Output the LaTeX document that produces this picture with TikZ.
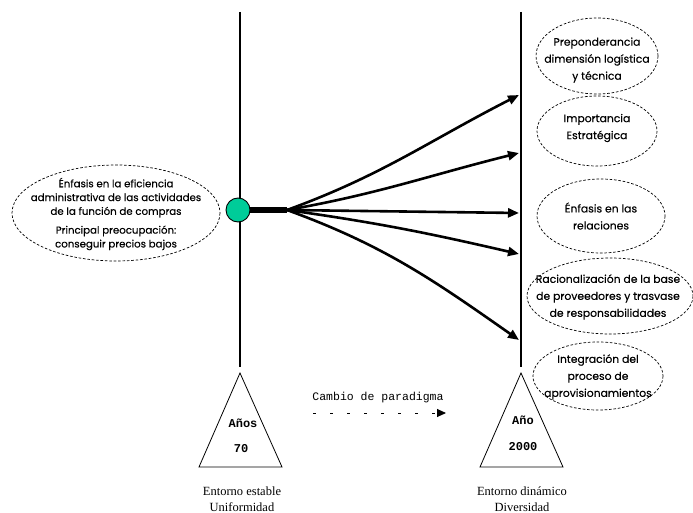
\documentclass[tikz,border=0pt]{standalone}
\usepackage{fontspec}
\setmainfont{Liberation Serif}
\newfontfamily\gotica{Poppins}[FakeBold=0.35]
\newfontfamily\maquina{Liberation Mono}
\usepackage{xcolor}
\definecolor{paradigmaVerde}{HTML}{00CC99}
\definecolor{paradigmaTinta}{HTML}{000000}
\usepackage{tikz}
\usetikzlibrary{arrows.meta, positioning, shapes.geometric}
\tikzset{
  %% ── Globos ───────────────────────────────────────────────────────────
  %% Dashed ellipses carry the ideas of each era; the text is a geometric sans.
  globo/.style      = {align=center, inner sep=0pt,
                       font=\gotica\fontsize{10.8}{17}\selectfont},
  borde/.style      = {draw=paradigmaTinta, line width=0.7pt,
                       dash pattern=on 2.6pt off 1.8pt},
  %%
  %% ── Ejes y flechas ───────────────────────────────────────────────────
  eje/.style        = {draw=paradigmaTinta, line width=2.8pt},
  rama/.style       = {-{Triangle[length=11pt, width=9pt]}, draw=paradigmaTinta,
                       line width=2.6pt},
  cambio/.style     = {-{Triangle[length=9pt, width=8pt]}, draw=paradigmaTinta,
                       line width=0.9pt, dash pattern=on 3pt off 14pt},
  %%
  %% ── Textos ───────────────────────────────────────────────────────────
  epoca/.style      = {font=\maquina\bfseries\fontsize{12}{14}\selectfont,
                       inner sep=0pt},
  entorno/.style    = {font=\fontsize{12.5}{15.5}\selectfont, align=center,
                       inner sep=0pt},
}

\begin{document}
\begin{tikzpicture}[x=1pt, y=-1pt]
\useasboundingbox (0,0) rectangle (693,513);

%% the two time axes
\coordinate (ejeAtop) at (240, 12);
\coordinate (ejeAbot) at (240, 367);
\coordinate (ejeBtop) at (521, 12);
\coordinate (ejeBbot) at (521, 367);
\draw[eje] (ejeAtop) -- (ejeAbot);
\draw[eje] (ejeBtop) -- (ejeBbot);

%% the era triangles
\draw[line width=0.8pt] (240, 373) -- (199, 467) -- (282, 467) -- cycle;
\draw[line width=0.8pt] (521, 373) -- (480, 467) -- (563, 467) -- cycle;
\node[epoca] (anos) at (243, 423) {Años};
\node[epoca] (setenta) at (241, 449) {70};
\node[epoca] (ano) at (523, 420) {Año};
\node[epoca] (dosmil) at (523, 447) {2000};

\node[entorno] (estable) at (242, 499) {Entorno estable\\Uniformidad};
\node[entorno] (dinamico) at (522, 499) {Entorno dinámico\\Diversidad};

%% the change of paradigm
\node[font=\maquina\fontsize{11.5}{13}\selectfont, inner sep=0pt]
     (paradigma) at (378, 398) {Cambio de paradigma};
\coordinate (cambioIni) at (313, 413);
\coordinate (cambioFin) at (446, 413);
\draw[cambio] (cambioIni) -- (cambioFin);

%% ideas
\node[globo, font=\gotica\fontsize{10.2}{13.8}\selectfont] (antes) at (116, 214)
     {Énfasis en la eficiencia\\administrativa de las actividades\\de la función de compras\\[5pt]%
      Principal preocupación:\\conseguir precios bajos};
\draw[borde] (116, 213) ellipse [x radius=104, y radius=48];
\node[globo] (g1) at (597, 60) {Preponderancia\\dimensión logística\\y técnica};
\draw[borde] (597, 56) ellipse [x radius=61, y radius=38];
\node[globo] (g2) at (597, 128) {Importancia\\Estratégica};
\draw[borde] (597, 131) ellipse [x radius=60, y radius=35];
\node[globo] (g3) at (601, 216) {Énfasis en las\\relaciones};
\draw[borde] (601, 216) ellipse [x radius=64, y radius=37];
\node[globo] (g4) at (608, 297)
     {Racionalización de la base\\de proveedores y trasvase\\de responsabilidades};
\draw[borde] (610, 296) ellipse [x radius=83, y radius=38];
\node[globo] (g5) at (598, 377) {Integración del\\proceso de\\aprovisionamientos};
\draw[borde] (598, 376) ellipse [x radius=65, y radius=34];

%% the fan of arrows
\coordinate (nudo) at (287, 210);
\foreach \n/\y in {1/95, 2/153, 3/213, 4/254, 5/340}
  \coordinate (punta\n) at (519, \y);
\draw[rama] (nudo) to[out=20, in=207] (punta1);
\draw[rama] (nudo) to[out=10, in=194] (punta2);
\draw[rama] (nudo) -- (punta3);
\draw[rama] (nudo) to[out=-8, in=167] (punta4);
\draw[rama] (nudo) to[out=-20, in=145] (punta5);
\node[circle, draw=paradigmaTinta, line width=0.9pt, fill=paradigmaVerde,
      minimum size=24, inner sep=0pt] (origen) at (238, 210) {};
\draw[line width=5.5pt] (origen) -- (nudo);

\end{tikzpicture}
\end{document}
